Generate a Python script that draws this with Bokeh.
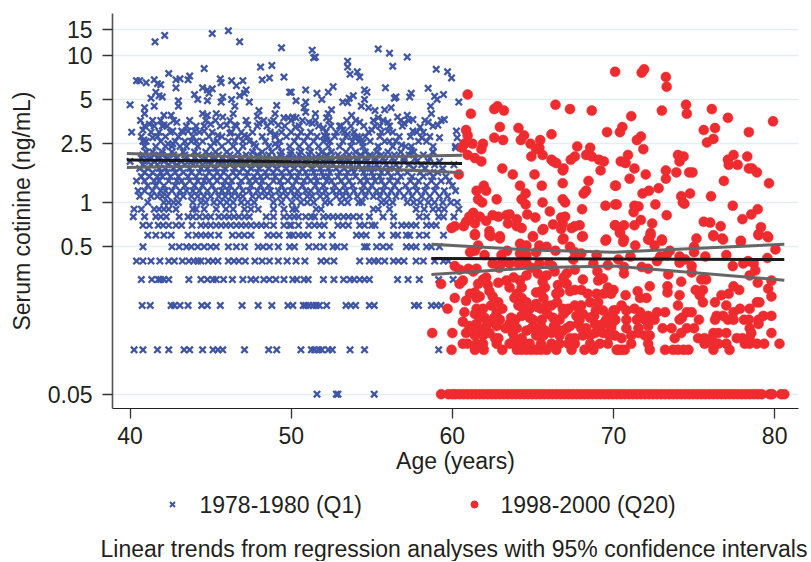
from bokeh.plotting import figure
from bokeh.models import FixedTicker, Range1d
from bokeh.layouts import column
from bokeh.core.properties import value
from bokeh.embed import file_html
from bokeh.resources import INLINE

# --- 1978-1980 (Q1): ages read at each discrete cotinine level
q1_005 = [51.6, 52.8, 52.9, 55.15]
q1_01 = [40.25,40.8,41.7,42.4,43.35,43.7,44.5,45.15,45.45,45.75,47.1,48.6,49.1,50.6,51.25,51.45,51.7,51.9,52.3,52.55,53.65,54.55,59.15]
q1_02 = [40.75,41.25,42.55,42.75,43.1,43.6,44.45,44.8,45.6,46.95,47.95,48.8,49.8,50.1,50.75,50.9,51.1,51.35,51.55,51.75,52.2,53.4,53.7,54,54.85,55.15,57.65,57.9,58.7,59,59.3]
q1_03 = [40.7,41.35,41.75,41.9,42.1,42.4,43.65,44.4,44.8,45.15,45.35,45.8,46.35,47,47.5,47.8,48.3,48.65,49.05,49.55,50.1,50.35,50.8,51.05,52,52.65,53.25,53.65,53.9,54.25,54.55,54.85,56.6,57.25,57.95,59.15,60.05]
q1_04 = [40.4,40.8,41.3,41.85,42.4,42.75,43.25,43.65,43.95,44.2,44.4,44.85,45.15,45.45,46.1,46.45,46.75,47.15,47.75,48.2,48.65,49.2,49.75,50.3,50.85,51.85,52.2,52.65,54.25,54.85,55.15,55.4,55.8,56.35,56.65,57,57.75,58.2,58.9,59.45,59.75]
q1_05 = [40.8,42.6,43.05,43.5,43.8,44.2,44.6,45,45.35,46.1,46.6,47.1,47.95,48.25,48.65,49.2,49.9,50.2,51.1,51.55,52,52.6,52.85,53.3,54.55,54.7,55.3,55.7,56.1,57.15,57.45,57.75,58.4,58.7,59.2]
q1_06 = [41.1,41.6,42.1,42.55,43.6,44.1,44.4,44.7,45,45.5,46.35,46.75,47.1,47.5,48.55,48.9,49.25,49.9,50.1,50.45,50.75,51.05,51.9,52.55,54.05,54.35,54.65,55.6,56.35,56.6,57.15,57.35,57.95,58.4,59.45]
q1_07 = [40.8,41.2,41.75,42.05,42.4,42.85,43.2,43.85,44.4,44.7,45,45.35,45.65,45.95,46.25,46.6,46.9,47.2,47.5,47.85,48.15,48.45,48.9,49.55,49.9,50,50.45,51.1,51.45,51.75,52.05,52.9,53.2,53.55,54.25,54.55,55,55.2,56.35,56.85,57.15,57.45,57.75,58.4,58.7,59]
q1_08 = [40.2,40.9,41.6,41.9,42.25,43.05,43.6,43.9,44.3,44.7,45,45.5,45.85,46.15,46.45,46.75,47.1,47.4,48.45,48.9,49.55,49.9,50.2,50.45,50.9,51.25,51.45,52,52.3,52.6,52.9,53.25,53.55,53.85,54.25,54.85,55.7,56.35,57.95,58.4,59.15,59.45,60.1]
q1_09 = [40.25,40.7,41.5,41.8,42.1,42.4,42.85,43.9,44.1,44.6,45.35,45.95,46.4,47.1,47.5,47.95,48.9,49.55,50.1,50.3,51.55,51.85,55.1,55.4,56.1,57.75,58.25,58.8,59.15,59.5,60.4]
q1_10 = [41.1,42.1,42.4,42.7,43,43.9,44.4,44.7,45.2,45.6,46,46.4,46.9,47.3,47.7,48.9,49.4,50.05,50.6,51,51.4,52.1,52.4,53.1,53.5,54.2,54.4,55.6,55.9,56.3,57.2,57.6,58,58.5,58.9,59.4,59.9,60.3]
q1_11 = [40.6,41.3,41.7,42,42.3,42.9,43.3,43.8,44.2,44.6,45,45.5,45.9,46.3,46.7,47,47.6,48,48.4,48.8,49.3,49.7,50.2,50.5,51,51.3,51.8,52.2,52.8,53.2,53.6,54.1,54.6,55.1,55.5,56,56.5,57,57.5,58.1,58.6,59.2,59.7]
q1_12 = [40.5,40.9,41.4,41.9,42.2,42.6,43.1,43.5,43.9,44.3,44.8,45.3,45.7,46.1,46.5,47,47.4,47.9,48.3,48.7,49.2,49.6,50,50.4,50.9,51.2,51.7,52.1,52.6,53,53.4,53.9,54.4,54.8,55.3,55.7,56.2,56.7,57.3,57.8,58.3,58.9,59.5,60.2]
q1_13 = [41.1,41.6,42.1,42.8,43.4,44,44.5,45.1,45.8,46.2,46.8,47.5,48.1,48.6,49.4,50.1,50.7,51.5,52,52.7,53.3,53.8,54.5,55,55.8,56.4,57.1,57.7,58.4,59,60]
q1_14 = [40.4,40.9,41.5,41.8,42.4,42.9,43.2,43.7,44.2,44.6,44.9,45.4,45.9,46.3,46.9,47.4,47.8,48.2,48.9,49.3,49.8,50.3,50.8,51.2,51.6,52.2,52.5,53.1,53.6,54.3,54.7,55.2,55.6,56.1,56.6,57.4,57.9,58.7,59.3,59.8]
q1_15 = [40.7,41.2,41.7,42,42.5,43,43.6,44.1,44.7,45.2,45.6,46.1,46.6,47.2,47.7,48.1,48.5,49,49.5,50,50.4,51,51.5,52,52.3,52.9,53.4,54,54.6,55.1,55.5,56.2,56.8,57.5,58.2,58.8,59.6]
q1_16 = [40.9,41.4,41.9,42.3,42.8,43.3,43.8,44.3,44.9,45.4,45.8,46.4,46.8,47.3,47.9,48.4,48.9,49.4,49.9,50.5,50.9,51.4,51.9,52.4,53,53.5,53.9,54.5,55,55.6,56,56.6,57.2,58,58.6,59.1]
q1_17 = [40.6,41.1,41.8,42.2,42.7,43.1,43.7,44.4,44.8,45.3,45.9,46.5,47,47.5,48,48.6,49.1,49.7,50.2,50.7,51.3,51.8,52.3,52.8,53.3,53.8,54.4,54.9,55.4,56.1,56.7,57.6,58.3,59.4]
q1_18 = [40.8,41.3,41.7,42.4,42.9,43.4,43.9,44.5,45,45.6,46.2,46.7,47.2,47.8,48.3,48.8,49.4,49.9,50.4,51,51.6,52.1,52.6,53.2,53.7,54.2,54.8,55.3,55.9,56.5,57.3,58.1,58.9,60.1]
q1_19 = [40,40.9,41.5,42.1,42.6,43.2,43.8,44.3,44.9,45.5,46,46.6,47.1,47.7,48.2,48.7,49.3,49.8,50.3,50.9,51.5,52,52.5,53.1,53.6,54.1,54.7,55.2,55.8,56.4,57,57.8,58.5,59.2]
q1_20 = [40.7,41.2,41.8,42.3,42.9,43.5,44,44.6,45.2,45.7,46.3,46.9,47.4,48,48.5,49.1,49.6,50.1,50.7,51.3,51.8,52.4,53,53.5,54.1,54.6,55.2,55.7,56.3,57,57.7,58.6]
q1_21 = [40.8,41.5,42,42.7,43.4,44.2,44.9,45.5,46.2,47.2,47.9,48.6,49.3,49.95,50.5,51.1,51.7,52.2,52.9,53.6,54.3,54.9,55.6,56.4,57.3,58.2]
q1_22 = [41,41.4,42,42.6,43.3,44,44.7,45.3,46,46.7,47.6,48.2,48.8,49.4,50,50.6,51.2,51.9,52.5,53.4,54,54.6,55.3,56,56.8,57.6,58.8]
q1_24 = [40.9,41.6,42.2,42.6,43.1,43.5,44.2,45,45.7,46.4,47,47.8,48.6,49.2,49.9,50.5,51.1,51.7,52.3,53,53.7,54.45,55.4,56.3,57.1,57.45,58.8,60.2]
q1_26 = [41,41.9,42.8,43.4,43.8,44.5,45.4,46.1,47,47.4,48.4,49.3,50.2,50.8,51.4,52,52.4,53.2,53.8,54.2,54.9,55.8,56.5,57.9,58.4]
q1_28 = [40.7,41.7,42.2,43,43.9,44.9,45.7,46.7,47.3,48.2,49,49.7,50.4,51,51.6,52.2,52.7,53.4,54.1,54.6,55.5,56.7,57.4,58.6]
q1_30 = [41.3,41.8,42.5,43.3,44.3,45.1,46.3,46.9,47.6,48.7,49.4,50,50.6,51.2,52.15,52.8,53.3,53.9,54.8,55.6,56.3,57.8,58.2]
q1_33 = [40.9,41.5,42.3,43.5,44.1,44.6,45.6,46.6,47.9,48.5,49.6,50.5,51.7,52.45,53.1,53.7,54.5,55.5,56.1,56.9,58.8]
q1_36 = [41.4,41.9,42.7,43.7,44.7,45.3,46.2,47.2,48.3,48.9,50,50.7,51.5,52.35,53.45,54,55.1,55.7,56.8,57.3,58.3,59.3]
q1_level_ages = [q1_005,q1_01,q1_02,q1_03,q1_04,q1_05,q1_06,q1_07,q1_08,q1_09,q1_10,q1_11,q1_12,q1_13,q1_14,q1_15,q1_16,q1_17,q1_18,q1_19,q1_20,q1_21,q1_22,q1_24,q1_26,q1_28,q1_30,q1_33,q1_36]
q1_levels = [0.05,0.1,0.2,0.3,0.4,0.5,0.6,0.7,0.8,0.9,1.0,1.1,1.2,1.3,1.4,1.5,1.6,1.7,1.8,1.9,2.0,2.1,2.2,2.4,2.6,2.8,3.0,3.3,3.6]

q1_upper = [(41.55,12.3),(42.15,13.6),(45.1,14),(46.1,14.6),(46.8,12.3),(49.4,11.2),(51.3,10.8),(51.4,9.6),(51.5,9.7),(55.4,11),(56.1,10.3),(56.3,8.4),(57.2,9.7),(59,8),(59.7,7.7),(59.95,7),
(40,4.6),(40.1,3),(40.4,6.7),(40.6,6.7),(41,6.5),(41.5,6.8),(41.7,6.4),(41.9,6.3),(42.4,7.5),(42.85,6.8),(43.1,6.9),(42.85,6),(43.6,6.8),(43.7,7.2),(44.6,8.1),(45.6,6.9),(45.65,6.5),(46.3,6.7),(46.6,6.2),(47,6.7),(47.2,5.8),(48.1,8.3),(48.8,8.5),(48.2,6.8),(48.65,7),(49.55,7.1),(49.9,5.6),
(41.6,5.6),(41.3,5.1),(41.8,5.3),(42,5.2),(41.5,4.5),(40.9,4.4),(40.9,4),(40.65,3.6),(41.2,3.4),(40.8,3.1),(42.1,3.9),(42.55,3.9),(43,4.9),(43,4.5),(42.9,3.5),(42,3.3),(42.1,3.35),(44,5.4),(44.2,5),(44.5,6),(44.8,5.8),(45.1,5.9),(44.9,5.5),(44.8,4.9),(45.65,4.8),(45.75,5.2),(46.3,5),(46.5,4.5),(46.8,5.3),(47.1,5.5),(47.4,4.8),(44.5,4),(44.8,3.9),(45.35,4),(45.75,3.8),(46.4,4),(46.5,3.35),(46,3.35),(45,3.4),(47.3,3.35),(48,4.2),(47.9,3.85),(48,3.45),(49.1,4.55),(49,4),(48.75,3.5),(49.2,3.35),(49.55,3.75),(49.8,3.75),(49,2.9),
(40.8,2.6),(40.85,2.65),(41.4,2.75),(42.65,3.05),(43.2,3.05),(43.6,3.05),(44,3.05),(44.6,3.05),(45.45,2.85),(46.2,2.95),(47.1,2.85),(42.35,2.5),(42.65,2.5),(44.1,2.6),(45.2,2.55),(46.5,2.6),(47.7,2.5),(49,2.5),
(50,5.6),(50.9,5.8),(51.6,5.5),(52.3,5.6),(52.6,6.1),(50.3,4.9),(50.9,4.8),(51.9,5),(50.8,4.4),(50.9,4.1),(51.5,4),(50.1,3.8),(50.3,3.75),(50.25,3.25),(51.1,3.5),(51.3,3.45),(52.5,4.25),(52.3,4),(52.2,3.75),(52,3.2),(52.05,2.85),(52.2,2.65),(53,3.3),(53.2,3.1),(53.5,2.9),(53.9,2.8),(54.25,2.75),(54.45,2.55),
(53.5,9.1),(53.5,8.3),(53.65,7.4),(54.1,7.7),(54.25,7.1),(55.85,6),(54.55,5.8),(54.7,5.6),(53.85,5.3),(53.6,5.1),(53.2,4.8),(53.5,4.75),(54.55,5),(54.35,4.5),(53.75,3.9),(54.25,3.5),(54.8,4.4),(55.2,4.2),(55.8,4.25),(56.2,4.4),(55.4,3.75),(55,3.1),(55.2,3.3),(56,3.05),(56,3.5),(56.5,5.2),(56.4,5.1),(57.35,5.2),(57.45,5.5),(58.5,5.95),(58.9,5.25),(59.05,5),(59.45,5.4),(60.4,4.8),(58.65,4.5),(58.7,4),(57.2,3.9),(56.6,3.8),(57,3.45),(57.55,3.65),(58,3.25),(58.5,3.5),(59.1,3.35),(59.5,3.65),(57.55,3.05),(58.1,2.75),(59.2,2.75),(60.25,3.05),(60.3,2.75),(60.2,2.35),(58.8,2.2),(57.45,2.25),(56.85,2.45),(56.1,2.6),(55.4,2.4)]

# --- 1998-2000 (Q20)
q20_floor = [59.3,59.75,60,60.2,60.45,60.7,60.95,61.2,61.45,61.7,61.95,62.2,62.45,62.7,62.95,63.2,63.45,63.7,63.95,64.2,64.45,64.7,64.95,65.2,65.45,65.7,65.95,66.2,66.45,66.7,66.95,67.2,67.45,67.7,67.95,68.2,68.45,68.7,68.95,69.2,69.45,69.7,69.95,70.2,70.45,70.7,70.95,71.2,71.45,71.7,71.95,72.2,72.45,72.7,72.95,73.2,73.45,73.7,73.95,74.2,74.45,74.7,74.95,75.2,75.45,75.7,75.95,76.2,76.45,76.7,76.95,77.2,77.45,77.7,77.95,78.2,78.45,78.7,78.95,79.2,79.7,79.85,80.4,80.6]
q20_01 = [59.95,61.4,61.95,63.1,64,64.3,64.6,64.9,65.2,65.5,65.85,66.45,67.4,68.2,68.75,70.2,70.3,70.5,70.7,72.25,73.2,73.7,74,74.35,74.65,76.2,77.2]
q20_011 = [60.65,60.95,61.5,61.9,62.75,63.55,63.85,64.2,64.5,64.8,65.5,66.15,66.65,67.2,67.6,68.55,69.15,69.65,71.1,72.15,75.65,76.1,76.5,77,78.15,78.45,78.9,79.35,80.3]
q20_upper = [(60.95,5.4),(61.15,4),(62.6,4.3),(62.8,4.5),(63.2,4.2),(66.4,4.6),(67.3,4.3),(68.65,4.2),(70.1,7.7),(60.85,3.1),(60.95,2.85),(62.95,3.25),(62.6,2.75),(63.15,2.65),(64.1,3.2),(64.45,2.85),(64.25,2.65),(64.85,2.5),(65.45,2.65),(66.15,2.9),(69.6,3),
(60.75,2.5),(61.25,2.5),(60.6,2.35),(61.9,2.5),(61.8,2.3),(60.95,2.1),(61.4,2),(61.8,1.9),(65.4,2.35),(65.2,2.3),(64.9,2.05),(65.6,2.1),(67.75,2.4),(68.55,2.35),(66.15,1.95),(66.25,1.9),(66.45,1.85),(67.6,2.05),(67.35,1.95),(68.3,2.1),(68.65,2.05),(69.1,1.95),(69.4,1.9),(69.2,1.65),(63.1,1.7),(63.75,1.55),(65.1,1.55),(66.85,1.65),(66.9,1.7),(60.4,1.55),(64.2,1.3),(65.55,1.3),(66.85,1.35),(68.45,1.4),(70.1,1.3),(61.5,1.2),(61.95,1.3),(62.1,1.2),(64.55,1.15),(68.3,1.2),(68.15,1.15),(61.6,1.05),(61.85,1),(62.75,1.05),(64.3,1.05),(64.55,.97),(65.6,1),(66.85,1.05),(67,1),(68.05,.9),(69.5,.95),(70.1,.97),(66.05,.87),
(61.3,.85),(61.05,.8),(60.85,.74),(61.4,.72),(61.7,.8),(62.1,.75),(62.5,.82),(62.85,.8),(63.35,.82),(63.55,.83),(63.45,.72),(64,.77),(64,.69),(64.3,.67),(64.65,.83),(65.15,.79),(65.65,.66),(66.25,.71),(66.75,.79),(67,.8),(66.85,.72),(66.75,.66),(67.4,.67),(67.9,.7),(67.6,.69),(70.1,.7),(59.95,.67),(60.15,.69),(60.7,.69),(62.3,.64),(61.4,.61),(62.4,.59),(62.95,.59),(65,.59),(66.9,.57),(68.1,.59),(69.55,.56),
(71.75,7.6),(71.9,8),(73.25,7.1),(73.3,6.1),(74.5,4.6),(73,4.2),(74.55,4),(76.1,4.3),(77.1,3.75),(71.1,3.85),(79.9,3.55),(70.55,3.25),(70.4,3),(75.6,3.1),(76.3,3.2),(78.4,3),(71.7,2.8),(71.45,2.65),(76.2,2.7),(75.8,2.55),(71.85,2.3),(74,2.1),(74.35,2.05),(74.1,1.9),(77.1,1.95),(77.45,2.1),(78.3,2.05),(77.15,1.8),(77.7,1.8),(78.4,1.7),(78.6,1.7),(78.9,1.6),(70.9,2.1),(70.45,1.9),(70.75,1.85),(71.3,1.7),(71,1.45),(72,1.55),(73.25,1.65),(73.25,1.45),(73.9,1.6),(74.7,1.6),(74.9,1.6),(76.85,1.4),(79.65,1.35),(70.15,1.3),(72.8,1.25),(72.2,1.2),(71.8,1.15),(74.2,1.1),(74.75,1.15),(76.05,1.1),(74.3,1),(74.4,.98),(70.2,.97),(72.6,.97),(71.3,.95),(71.55,.94),(71.25,.86),(77.4,.95),(78.95,.9),(73.3,.82),(78.55,.83),(78,.77),(71.7,.76),(71.3,.7),(72.4,.72),(70.1,.7),(70.65,.7),(70.4,.63),(72.3,.62),(75.6,.74),(76,.73),(76.65,.69),(79.15,.68),(76.2,.6),(79,.61),(79.55,.59),(70.65,.56),(72.15,.56),(73,.56),(75.15,.57),(76.75,.57),(77.9,.55)]
q20_lower_right = [(70.4,.62),(72.3,.6),(72.2,.56),(73,.55),(70.6,.54),(71.35,.51),(72.55,.51),(75,.5),(75,.46),(76.2,.59),(76.8,.56),(77.9,.54),(79,.6),(79.6,.58),(80.05,.48),(73.5,.47),(73.3,.44),(72.9,.43),(72.7,.4),(71.05,.43),(70.3,.41),(74.1,.43),(74.1,.39),(74.45,.41),(75.7,.43),(77,.44),(79.55,.42),(77.4,.37),(78.05,.385),(78.35,.4),(78.7,.385),(78.8,.345),(78.45,.32),(74.85,.37),(74.85,.335),(73.4,.325),(71.75,.365),(72.15,.355),(70.65,.365),(70.65,.33),(74.2,.29),(75.45,.3),(75.75,.3),(72.25,.27),(73.35,.27),(73.35,.245),(77.45,.27),(77.8,.255),(78.95,.285),(79.8,.295),(79.6,.26),(79.8,.23),(70,.255),(70.75,.235),(71.5,.25),(71.65,.225),(72.05,.225),(74.1,.235),(74,.2),(75.1,.255),(75.55,.255),(75.35,.235),(75.55,.21),(77.15,.24),(76.7,.235),(76.3,.21),(77,.2),(78.9,.21),(79.05,.21),(78.45,.19),(77.85,.19),(77.45,.18),(72.7,.18),(73.2,.18),(74.55,.18),(74.85,.18),(74.25,.165),(74.1,.16),(75.3,.16),(76.4,.17),(76.3,.16),(76.8,.17),(77.1,.16),(77.45,.16),(78.1,.16),(78.4,.16),(79,.16),(79.3,.17),(79,.15),(79.8,.17),(78.45,.14),(73.05,.14),(73.6,.14),(74.55,.14),(75,.14),(74.2,.13),(73.8,.12),(76.5,.13),(77,.13),(76.2,.13),(79.8,.13),(78.55,.13),(75.25,.12),(75.65,.12),(76.1,.12),(77.65,.12),(78,.12),(78.45,.12),
(70.1,.185),(70.5,.2),(70.8,.185),(71.3,.19),(71.65,.18),(72.15,.17),(72.55,.16),(71.95,.16),(71.45,.16),(70.8,.16),(70.1,.16),(69.9,.15),(70.8,.14),(71.55,.14),(72.15,.145),(71.1,.125),(70.5,.12),(70.1,.125),(71.55,.13),(71.95,.125),(72.25,.125)]
q20_lower_left = [(59.3,.28),(60.15,.225),(59.7,.19),(58.75,.13),(60,.13),(61.4,.6),(62.3,.6),(62.95,.57),(65,.585),(65.6,.65),(66.85,.56),(68.05,.585),(69.5,.55),(61.6,.51),(61.4,.47),(61.1,.46),(64.2,.525),(64.6,.51),(65.4,.51),(65.85,.5),(64.2,.45),(65.2,.46),(67.3,.5),(67.6,.46),(68.95,.44),(63.05,.44),(62.5,.385),(63.05,.385),(63.55,.385),(64.1,.385),(64.6,.385),(65.4,.385),(66,.385),(67.5,.41),(68.75,.385),(69.65,.375),(60.15,.37),(60.45,.35),(61,.355),(61.5,.355),(65.3,.33),(65.85,.32),(67.1,.33),(66.35,.34),(60.65,.295),(60.45,.28),(61.6,.28),(62.1,.31),(62.2,.275),(62.85,.285),(63.35,.295),(63.55,.265),(64.3,.265),(64.2,.295),(64.6,.32),(65.75,.265),(66.55,.275),(67.1,.28),(66.45,.24),(66.65,.245),(65.2,.245),(67.6,.255),(68,.255),(68.4,.24),(68.95,.24),(69.05,.295),(69.35,.305),(69.65,.265),(69.85,.24),(61.1,.24),(61.4,.245),(60.85,.215),(61.5,.225),(61.7,.23),(62.5,.23),(62.85,.21),(62.4,.2),(63.85,.225),(64.3,.225),(64.6,.21),(65.65,.225),(65.2,.205),(65.85,.2),(64.8,.19),(64.4,.19),(65.5,.19),(66.15,.2),(66.85,.19),(67.2,.19),(67.6,.2),(68,.2),(68.55,.21),(69.05,.21),(60.75,.18),(61.5,.19),(61.4,.175),(60.65,.155),(62,.165),(62.75,.18),(62.95,.16),(62.4,.155),(63.65,.165),(63.55,.15),(64.3,.17),(65,.16),(65.55,.16),(64.6,.175),(66.25,.165),(66.65,.16),(67.1,.185),(68.1,.175),(67.9,.16),(68.55,.165),(69.35,.185),(70,.185),(69.55,.16),(70.1,.16),(61.05,.145),(61.5,.15),(62.1,.145),(61.8,.135),(62.75,.145),(63.85,.145),(64.6,.135),(65.3,.14),(65.75,.135),(66.45,.14),(66.85,.135),(67.3,.145),(67.8,.15),(68.3,.14),(68.85,.15),(69.35,.15),(69.85,.14),(60.85,.13),(61.4,.125),(61.9,.125),(62.65,.12),(62.85,.12),(63.75,.13),(63.85,.12),(64.3,.12),(65.2,.125),(65.65,.125),(66.15,.13),(66.65,.125),(67.3,.12),(67.6,.12),(68.1,.125),(68.55,.125),(68.85,.13),(69.35,.13),(69.75,.125)]
q20_dense = [(61.2,.135),(62.3,.13),(63.3,.14),(64,.14),(64.9,.14),(65.5,.145),(66.3,.145),(67.1,.14),(68,.14),(69.1,.14),
(61.7,.165),(62.6,.165),(63.9,.16),(64.8,.165),(65.9,.175),(66.9,.175),(67.7,.17),(68.8,.17),(69.8,.17),
(61.9,.19),(63.1,.19),(64.1,.2),(65.3,.195),(66.5,.21),(67.9,.19),(68.9,.185),
(62.3,.25),(64,.24),(65.5,.25),(67.3,.25),(69.4,.24),
(61.9,.3),(63.8,.31),(65.6,.29),(66.9,.31),(68.1,.3),
(61.3,.34),(62.9,.36),(64.9,.36),(66.2,.37),(67.6,.35),(69,.34),
(62,.44),(63.4,.47),(64.6,.44),(66.4,.47),(68,.45)]

# --- Regression lines with confidence bands
q1_fit_age = [39.8, 50, 60.6]
q1_fit = [1.94, 1.89, 1.84]
q1_hi = [2.15, 1.99, 2.09]
q1_lo = [1.73, 1.81, 1.59]
q20_fit_age = [58.7, 65, 70, 80.6]
q20_fit = [0.417, 0.415, 0.413, 0.41]
q20_hi = [0.52, 0.475, 0.46, 0.52]
q20_lo = [0.325, 0.36, 0.37, 0.297]

yticks = [0.05, 0.5, 1, 2.5, 5, 10, 15]
ytick_labels = ["0.05", "0.5", "1", "2.5", "5", "10", "15"]
xticks = [40, 50, 60, 70, 80]

BLUE, RED = "#3f55a5", "#ee2b2e"
FONT = "Liberation Sans"
TXT = "#231f20"
FS = "23px"

q1_x, q1_y = [], []
for lev, ages in zip(q1_levels, q1_level_ages):
    q1_x += ages
    q1_y += [lev] * len(ages)
q1_x += [a for a, _ in q1_upper]
q1_y += [b for _, b in q1_upper]

q20_x = list(q20_floor) + q20_01 + q20_011
q20_y = [0.05] * len(q20_floor) + [0.1] * len(q20_01) + [0.11] * len(q20_011)
for lst in (q20_upper, q20_lower_right, q20_lower_left, q20_dense):
    q20_x += [a for a, _ in lst]
    q20_y += [b for _, b in lst]

p = figure(frame_width=686, frame_height=395, width=811, height=474,
           x_range=(38.91, 81.48), y_range=(0.04, 19.15), y_axis_type="log",
           output_backend="svg", toolbar_location=None,
           min_border_left=112, min_border_right=13, min_border_top=13, min_border_bottom=66,
           background_fill_color="white", border_fill_color="white")
p.frame_align = False
p.outline_line_color = None
p.xgrid.visible = False
p.ygrid.ticker = FixedTicker(ticks=yticks)
p.ygrid.grid_line_color = "#e3eef1"
p.ygrid.grid_line_width = 1.6

p.yaxis.ticker = FixedTicker(ticks=yticks)
p.yaxis.major_label_overrides = {t: s for t, s in zip(yticks, ytick_labels)}
p.xaxis.ticker = FixedTicker(ticks=xticks)
p.yaxis.axis_label = "Serum cotinine (ng/mL)"
p.xaxis.axis_label = "Age (years)"
for ax in (p.xaxis[0], p.yaxis[0]):
    ax.minor_tick_line_color = None
    ax.major_tick_in = 0
    ax.major_tick_out = 10
    ax.major_tick_line_color = "#333333"
    ax.major_tick_line_width = 1.3
    ax.major_label_text_font = FONT
    ax.major_label_text_font_size = FS
    ax.major_label_text_color = TXT
    ax.axis_label_text_font = FONT
    ax.axis_label_text_font_size = FS
    ax.axis_label_text_font_style = "normal"
    ax.axis_label_text_color = TXT
p.yaxis[0].axis_line_color = "#555555"
p.yaxis[0].axis_line_width = 1.6
p.xaxis[0].axis_line_color = "#222222"
p.xaxis[0].axis_line_width = 1.2
p.yaxis[0].major_label_standoff = 10
p.xaxis[0].major_label_standoff = 8
p.yaxis[0].axis_label_standoff = 10
p.xaxis[0].axis_label_standoff = 1

p.scatter(q1_x, q1_y, marker="x", size=9, line_color=BLUE, line_width=2.3)
p.scatter(q20_x, q20_y, marker="circle", size=10, fill_color=RED, line_color=RED, line_width=0.5)

for xs, ys in ((q1_fit_age, q1_hi), (q1_fit_age, q1_lo), (q20_fit_age, q20_hi), (q20_fit_age, q20_lo)):
    p.line(xs, ys, line_color="#666666", line_width=3)
p.line(q1_fit_age, q1_fit, line_color="#1a1a1a", line_width=3)
p.line(q20_fit_age, q20_fit, line_color="#1a1a1a", line_width=3)

# strip below the plot: legend and note, positioned in the strip's own pixels
strip = figure(width=811, height=85, x_range=Range1d(0, 811), y_range=Range1d(85, 0),
               output_backend="svg", toolbar_location=None, min_border=0,
               x_axis_type=None, y_axis_type=None)
strip.frame_align = False
strip.outline_line_color = None
strip.grid.visible = False
strip.scatter([172], [28], marker="x", size=7, line_color=BLUE, line_width=2)
strip.scatter([474], [28], marker="circle", size=7, fill_color=RED, line_color=RED)
strip.text([199, 500, 100], [28, 28, 72],
           text=["1978-1980 (Q1)", "1998-2000 (Q20)",
                 "Linear trends from regression analyses with 95% confidence intervals"],
           text_font=value(FONT), text_font_size=value(FS), text_color=TXT,
           text_baseline="middle", text_align="left")

open("out.html", "w").write(file_html(column(p, strip, spacing=0), INLINE))
